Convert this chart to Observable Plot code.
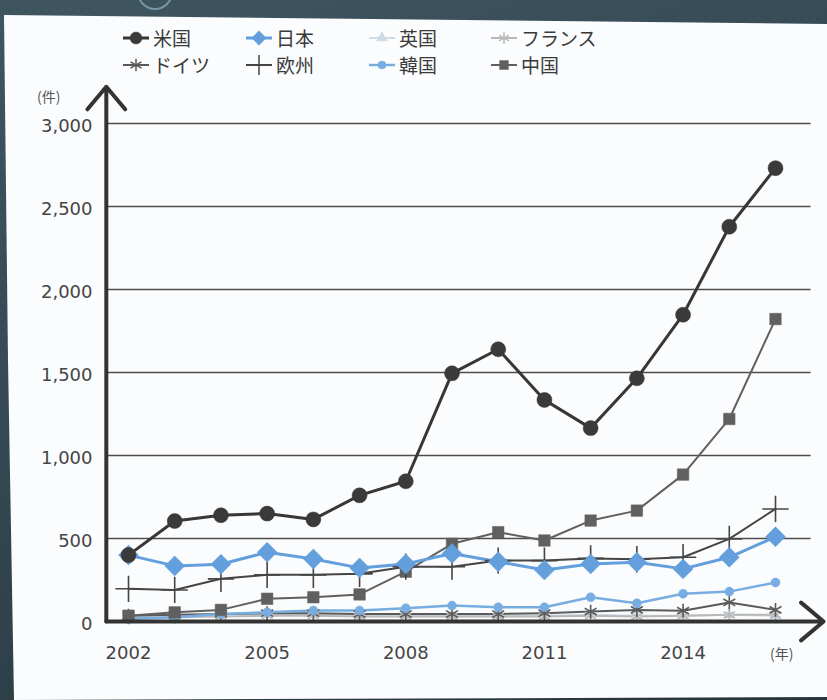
<!DOCTYPE html>
<html>
<head>
<meta charset="utf-8">
<script src="https://cdn.jsdelivr.net/npm/d3@7"></script>
<script src="https://cdn.jsdelivr.net/npm/@observablehq/plot@0.6"></script>
<style>
  html, body { margin: 0; padding: 0; }
  body { width: 827px; height: 700px; overflow: hidden; position: relative;
         background: linear-gradient(160deg, #3f5560 0%, #334751 50%, #26343b 100%);
         font-family: "Noto Sans CJK JP", "Noto Sans", sans-serif; }
  #card { position: absolute; left: 0; top: 0; width: 827px; height: 700px; background: #fbfcfd;
          clip-path: polygon(4px 15px, 827px 24px, 827px 697px, 14px 700px, 8px 360px); }
  #deco { position: absolute; left: 137px; top: -26px; width: 32px; height: 32px; border-radius: 50%;
          border: 2px solid rgba(140,180,200,0.7); }
  #legend { position: absolute; left: 0; top: 0; }
  .item { position: absolute; display: flex; align-items: center; height: 22px;
          font-size: 19px; color: #3a3a3a; line-height: 22px; white-space: nowrap; }
  .item svg { margin-right: 3px; }
  .unit { position: absolute; font-size: 14px; color: #555; font-family: "Noto Sans CJK JP", sans-serif; }
  #chart { position: absolute; left: 0; top: 80px; }
</style>
</head>
<body>
<div id="deco"></div>
<div id="card"></div>
<div id="legend"></div>
<div id="chart"></div>
<span class="unit" style="left:37px; top:86px;">(件)</span>
<span class="unit" style="left:770px; top:643px;">(年)</span>
<script>
// ---- data ----
const years = [2002, 2003, 2004, 2005, 2006, 2007, 2008, 2009, 2010, 2011, 2012, 2013, 2014, 2015, 2016];
const us      = [400, 605, 640, 650, 615, 760, 845, 1495, 1640, 1335, 1165, 1465, 1848, 2378, 2731];
const japan   = [400, 335, 345, 417, 377, 323, 347, 410, 360, 310, 347, 357, 317, 387, 510];
const uk      = [30, 35, 40, 45, 45, 40, 40, 35, 35, 35, 40, 35, 35, 40, 35];
const france  = [20, 25, 30, 35, 35, 30, 30, 30, 30, 30, 35, 30, 35, 40, 40];
const germany = [35, 40, 45, 50, 50, 45, 45, 45, 45, 50, 60, 70, 65, 115, 70];
const europe  = [197, 190, 257, 281, 281, 287, 330, 330, 367, 367, 380, 375, 387, 498, 678];
const korea   = [15, 25, 45, 56, 66, 66, 80, 96, 86, 86, 146, 110, 167, 180, 235];
const china   = [35, 55, 70, 137, 146, 163, 300, 468, 538, 488, 608, 668, 885, 1220, 1822];

const seriesNames = ["米国", "日本", "英国", "フランス", "ドイツ", "欧州", "韓国", "中国"];
const seriesValues = [us, japan, uk, france, germany, europe, korea, china];
const xTickYears = [2002, 2005, 2008, 2011, 2014];
const yTickValues = [0, 500, 1000, 1500, 2000, 2500, 3000];

// ---- styles ----
const styles = {
  "米国":   {stroke: "#373737", width: 3,   symbol: "circle",   r: 7.5, fill: "#3a3a3a", legendR: 6},
  "日本":   {stroke: "#629fdc", width: 3,   symbol: "diamond2", r: 9,   fill: "#629fdc", legendR: 6.5},
  "英国":   {stroke: "#cfdbe7", width: 2,   symbol: "triangle", r: 4,   fill: "#cfdbe7", legendR: 4},
  "フランス": {stroke: "#b8b8b8", width: 2, symbol: "asterisk", r: 6,   fill: "none",    legendR: 5.5},
  "ドイツ":  {stroke: "#5a5a5a", width: 2,   symbol: "asterisk", r: 6.5, fill: "none",    legendR: 6},
  "欧州":   {stroke: "#454545", width: 2,   symbol: "plus",     r: 8.5, fill: "none",    legendR: 8},
  "韓国":   {stroke: "#78ade2", width: 2.5, symbol: "circle",   r: 4.5, fill: "#78ade2", legendR: 4},
  "中国":   {stroke: "#606060", width: 2,   symbol: "square",   r: 6.5, fill: "#606060", legendR: 5}
};
const drawOrder = ["英国", "フランス", "ドイツ", "韓国", "中国", "欧州", "日本", "米国"];

// axis extents (in data units)
const xAxisStart = 2001.52, xAxisEnd = 2017.04, gridEnd = 2016.77, yAxisTop = 3221;

const rows = {};
seriesNames.forEach((name, k) => {
  rows[name] = years.map((yr, i) => ({series: name, year: yr, value: seriesValues[k][i]}));
});

const marks = [
  Plot.ruleY(yTickValues.slice(1), {x1: xAxisStart, x2: gridEnd, y: d => d, stroke: "#4d4d4d", strokeWidth: 1.6})
];
for (const name of drawOrder) {
  const s = styles[name];
  marks.push(Plot.line(rows[name], {x: "year", y: "value", stroke: s.stroke, strokeWidth: s.width}));
}
for (const name of drawOrder) {
  const s = styles[name];
  const strokeSym = s.fill === "none";
  marks.push(Plot.dot(rows[name], {
    x: "year", y: "value", symbol: s.symbol, r: s.r,
    fill: strokeSym ? "none" : s.fill,
    stroke: s.stroke, strokeWidth: strokeSym ? 1.6 : 0.5
  }));
}
marks.push(
  Plot.arrow([{x1: xAxisStart, y1: 0, x2: xAxisStart, y2: yAxisTop}],
    {x1: "x1", y1: "y1", x2: "x2", y2: "y2", stroke: "#333", strokeWidth: 4, headLength: 11, headAngle: 80}),
  Plot.arrow([{x1: xAxisStart, y1: 0, x2: xAxisEnd, y2: 0}],
    {x1: "x1", y1: "y1", x2: "x2", y2: "y2", stroke: "#333", strokeWidth: 4, headLength: 11, headAngle: 80}),
  Plot.axisX(xTickYears, {tickSize: 0, tickPadding: 25, tickFormat: d => String(d), fontSize: 18, fill: "#454545"}),
  Plot.axisY(yTickValues, {tickSize: 0, tickPadding: 36, tickFormat: d3.format(","), fontSize: 18, fill: "#454545", dy: 3})
);

const chart = Plot.plot({
  width: 827,
  height: 610,
  marginLeft: 128,
  marginRight: 52,
  marginTop: 43,
  marginBottom: 69,
  x: {type: "linear", domain: [2002, 2016], axis: null},
  y: {domain: [0, 3000], axis: null},
  style: {background: "transparent", fontFamily: "'DejaVu Sans', 'Liberation Sans', sans-serif", fontSize: "18px", overflow: "visible"},
  marks
});
document.getElementById("chart").appendChild(chart);

// ---- legend ----
const symbolMap = {
  circle: d3.symbolCircle, diamond2: d3.symbolDiamond2, triangle: d3.symbolTriangle,
  asterisk: d3.symbolAsterisk, plus: d3.symbolPlus, square: d3.symbolSquare
};
const colX = [122, 245, 368, 490];
const rowY = [38, 65];
const legend = d3.select("#legend");
seriesNames.forEach((name, k) => {
  const s = styles[name];
  const item = legend.append("div").attr("class", "item")
    .style("left", colX[k % 4] + "px").style("top", (rowY[Math.floor(k / 4)] - 11) + "px");
  const svg = item.append("svg").attr("width", 28).attr("height", 20);
  svg.append("line").attr("x1", 1).attr("x2", 27).attr("y1", 10).attr("y2", 10)
    .attr("stroke", s.stroke).attr("stroke-width", s.width);
  const strokeSym = s.fill === "none";
  svg.append("path").attr("transform", "translate(14,10)")
    .attr("d", d3.symbol(symbolMap[s.symbol], s.legendR * s.legendR * Math.PI)())
    .attr("fill", strokeSym ? "none" : s.fill)
    .attr("stroke", s.stroke).attr("stroke-width", strokeSym ? 1.5 : 0.5);
  item.append("span").text(name);
});
</script>
</body>
</html>
